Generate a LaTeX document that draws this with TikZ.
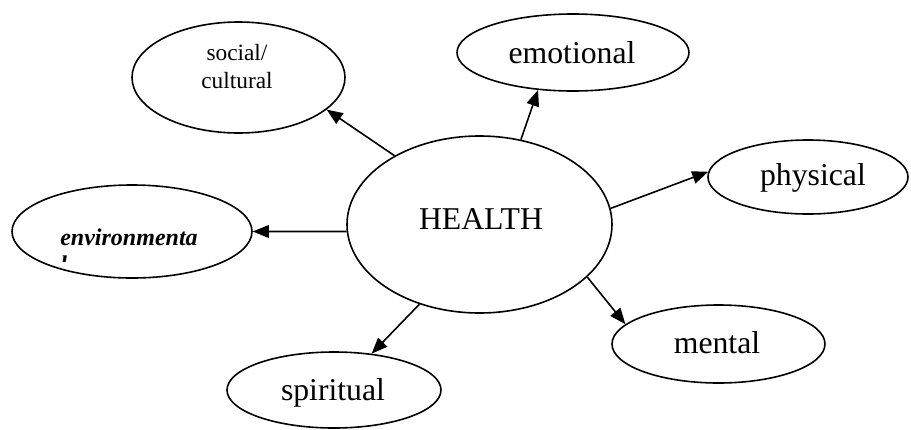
\documentclass[tikz,border=0pt]{standalone}
\usepackage{fontspec}
\setmainfont{Liberation Serif}
\usetikzlibrary{shapes.geometric,arrows.meta}
\begin{document}
\begin{tikzpicture}[x=0.75pt,y=-0.75pt,
  oval/.style={draw=black,line width=1.2pt,ellipse,inner sep=0pt},
  lbl/.style={anchor=base,inner sep=0pt,font=\fontsize{23.8}{28}\selectfont},
  conn/.style={draw=black,line width=1.2pt,-{Triangle[length=12pt,width=9.5pt]}}]
\fill[white] (0,0) rectangle (911,429);
\useasboundingbox (0,0) rectangle (911,429);
% ellipses
\node[oval,minimum width=198.75pt,minimum height=132.75pt] (health) at (479.5,224.5) {};
\node[oval,minimum width=159.75pt,minimum height=83.25pt] (social) at (238.5,77.5) {};
\node[oval,minimum width=174pt,minimum height=57.75pt] (emotional) at (573,52.5) {};
\node[oval,minimum width=150pt,minimum height=55.5pt] (physical) at (808,177) {};
\node[oval,minimum width=180pt,minimum height=69.75pt] (environ) at (132,231.5) {};
\node[oval,minimum width=159.75pt,minimum height=58.5pt] (mental) at (718.5,344) {};
\node[oval,minimum width=160.5pt,minimum height=57pt] (spiritual) at (334,390) {};
% texts
\node[lbl] (healthT) at (481,229) {HEALTH};
\node[lbl] (emotionalT) at (572,63) {emotional};
\node[lbl] (physicalT) at (813,185) {physical};
\node[lbl] (mentalT) at (717,353) {mental};
\node[lbl] (spiritualT) at (333,400) {spiritual};
\node[anchor=base,inner sep=0pt,align=center,font=\fontsize{17.5}{20.5}\selectfont] (socialT) at (237,88) {social/\\cultural};
\node[anchor=base,inner sep=0pt,font=\fontsize{18}{20}\selectfont\bfseries\itshape] (environT) at (129,245) {environmenta};
\begin{scope}
\clip (0,180) rectangle (911,261);
\node[anchor=base west,inner sep=0pt,font=\fontsize{18}{20}\selectfont\bfseries\itshape] (environL) at (60,272) {l};
\end{scope}
% connectors
\draw[conn] (health.141.8) -- (social.340);
\draw[conn] (health.64.1) -- (emotional.227.1);
\draw[conn] (health.7.1) -- (physical.177.7);
\draw[conn] (health.183.2) -- (environ.0);
\draw[conn] (health.233.1) -- (spiritual.44.3);
\draw[conn] (health.334) -- (mental.168.4);
\end{tikzpicture}
\end{document}
